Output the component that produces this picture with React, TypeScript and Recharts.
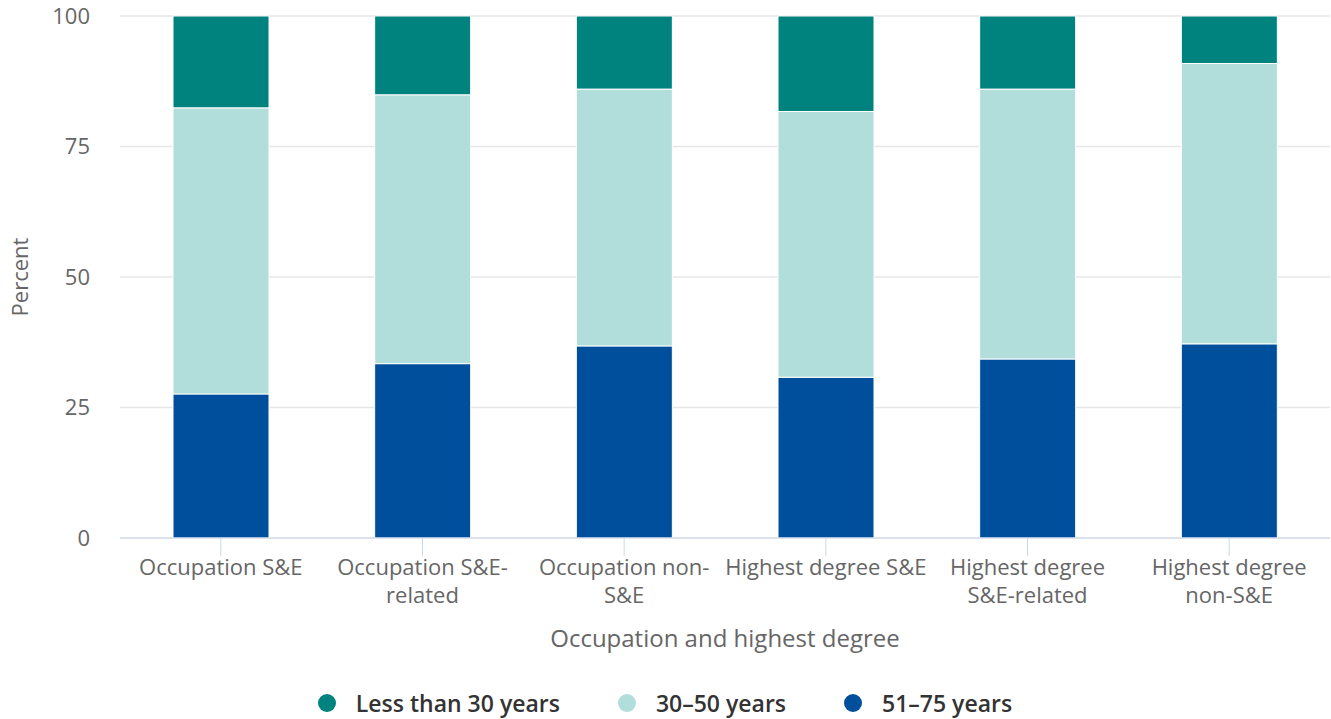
import { BarChart, Bar, XAxis, YAxis, CartesianGrid, Legend } from "recharts";

const categories = [
  "Occupation S&E",
  "Occupation S&E-related",
  "Occupation non-S&E",
  "Highest degree S&E",
  "Highest degree S&E-related",
  "Highest degree non-S&E",
];

// how each category label wraps under the axis
const categoryLines = [
  ["Occupation S&E"],
  ["Occupation S&E-", "related"],
  ["Occupation non-", "S&E"],
  ["Highest degree S&E"],
  ["Highest degree", "S&E-related"],
  ["Highest degree", "non-S&E"],
];

const under30 = [17.6, 15.1, 14.0, 18.3, 14.0, 9.1];
const age30to50 = [54.8, 51.5, 49.2, 50.9, 51.7, 53.7];
const age51to75 = [27.6, 33.4, 36.8, 30.8, 34.3, 37.2];

const yTicks = [0, 25, 50, 75, 100];

const legendItems = [
  { name: "Less than 30 years", color: "#00827f" },
  { name: "30–50 years", color: "#b1deda" },
  { name: "51–75 years", color: "#004f9c" },
];

const data = categories.map((c, i) => ({
  category: c,
  under30: under30[i],
  mid: age30to50[i],
  older: age51to75[i],
}));

const FONT = "'Open Sans', sans-serif";

const CategoryTick = (props: any) => {
  const { x, y, index } = props;
  const lines = categoryLines[index] || [props.payload.value];
  return (
    <g transform={`translate(${x},${y})`}>
      {lines.map((line: string, i: number) => (
        <text
          key={i}
          x={0}
          y={i * 28}
          dy={17}
          textAnchor="middle"
          fill="#666666"
          fontSize={22}
          fontFamily={FONT}
        >
          {line}
        </text>
      ))}
    </g>
  );
};

const LegendContent = () => (
  <div
    style={{
      display: "flex",
      justifyContent: "center",
      alignItems: "center",
      height: 50,
      paddingTop: 18,
      boxSizing: "border-box",
      fontFamily: FONT,
      fontSize: 23,
      fontWeight: 600,
      color: "#333333",
    }}
  >
    {legendItems.map((item, i) => (
      <div key={item.name} style={{ display: "flex", alignItems: "center", marginLeft: i === 0 ? 0 : 58 }}>
        <span
          style={{
            width: 18,
            height: 18,
            borderRadius: 9,
            background: item.color,
            display: "inline-block",
            marginRight: 20,
          }}
        />
        <span>{item.name}</span>
      </div>
    ))}
  </div>
);

export default function App() {
  return (
    <div style={{ position: "absolute", left: 0, top: 0, background: "#fff" }}>
      <BarChart
        width={1331}
        height={719}
        data={data}
        margin={{ top: 16, right: 1, left: 0, bottom: 0 }}
      >
        <CartesianGrid vertical={false} stroke="#e6e6e6" strokeWidth={1.5} />
        <XAxis
          dataKey="category"
          interval={0}
          height={131}
          stroke="#ccd6eb"
          tickSize={18}
          tickLine={{ stroke: "#ccd6eb" }}
          tick={<CategoryTick />}
          label={{
            value: "Occupation and highest degree",
            position: "insideBottom",
            offset: 22,
            fill: "#666666",
            fontSize: 24,
            fontFamily: FONT,
          }}
        />
        <YAxis
          width={120}
          domain={[0, 100]}
          ticks={yTicks}
          axisLine={false}
          tickLine={false}
          tickSize={0}
          tickMargin={30}
          tick={{ fill: "#666666", fontSize: 22, fontFamily: FONT }}
          label={{
            value: "Percent",
            angle: -90,
            position: "insideLeft",
            offset: 20,
            fill: "#666666",
            fontSize: 22,
            fontFamily: FONT,
            style: { textAnchor: "middle" },
          }}
        />
        <Legend verticalAlign="bottom" height={50} content={<LegendContent />} />
        <Bar dataKey="older" name="51–75 years" stackId="a" fill="#004f9c" stroke="#ffffff" strokeWidth={1} barSize={96} isAnimationActive={false} />
        <Bar dataKey="mid" name="30–50 years" stackId="a" fill="#b1deda" stroke="#ffffff" strokeWidth={1} barSize={96} isAnimationActive={false} />
        <Bar dataKey="under30" name="Less than 30 years" stackId="a" fill="#00827f" stroke="#ffffff" strokeWidth={1} barSize={96} isAnimationActive={false} />
      </BarChart>
    </div>
  );
}
